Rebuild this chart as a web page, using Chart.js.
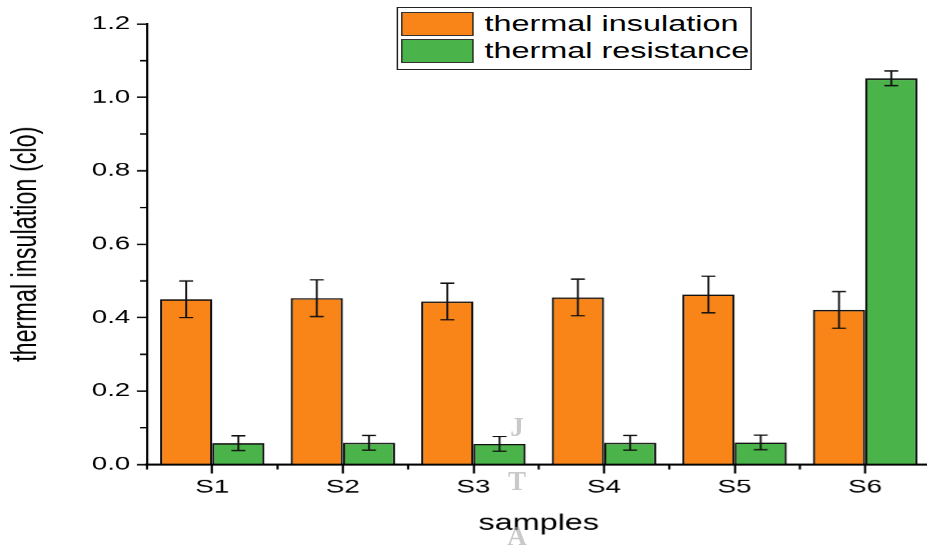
<!DOCTYPE html>
<html>
<head>
<meta charset="utf-8">
<script src="https://cdn.jsdelivr.net/npm/chart.js@4.4.1/dist/chart.umd.min.js"></script>
<style>
  html, body { margin: 0; padding: 0; background: #fff; overflow: hidden; }
  #wrap { position: absolute; left: 0; top: 0; width: 630px; height: 548px; transform: scaleX(1.48); transform-origin: 0 0; }
  #barChart { position: absolute; left: 0; top: 0; }
  #legend { position: absolute; left: 267.6px; top: 7px; width: 238px; height: 59px; border: 1px solid #222; background: #fff;
            padding-top: 2px; box-sizing: content-box; font-family: 'Liberation Sans', Arial, sans-serif; }
  .row { display: flex; align-items: center; height: 27.5px; }
  .sw { width: 47px; height: 22px; margin-left: 2.4px; border: 1px solid #333; }
  .lbl { margin-left: 7.4px; font-size: 21.9px; color: #000; white-space: nowrap; }
  .wm { position: absolute; left: 497px; width: 40px; text-align: center; font: bold 27px 'Liberation Serif', serif;
        line-height: 0.8; color: rgba(165,165,165,0.6); }
</style>
</head>
<body>
<div id="wrap">
  <canvas id="barChart" width="630" height="548"></canvas>
  <div id="legend"></div>
</div>
<div class="wm" style="top:417px">J</div>
<div class="wm" style="top:471px">T</div>
<div class="wm" style="top:526px">A</div>
<script>
// data
let samples = ['S1', 'S2', 'S3', 'S4', 'S5', 'S6'];
let insulation = [0.450, 0.453, 0.444, 0.455, 0.463, 0.421];
let insulationErr = [0.05, 0.05, 0.05, 0.05, 0.05, 0.05];
let resistance = [0.058, 0.059, 0.056, 0.059, 0.060, 1.052];
let resistanceErr = [0.02, 0.02, 0.02, 0.02, 0.02, 0.02];
let yTicks = [0, 0.2, 0.4, 0.6, 0.8, 1.0, 1.2];

const STRETCH = 1.48; // the original figure is wider than its fonts

Chart.defaults.font.family = "'Liberation Sans', Arial, sans-serif";
Chart.defaults.color = '#000';

// error bars on top of each bar
const errorBars = {
    id: 'errorBars',
    afterDatasetsDraw(chart) {
        const ctx = chart.ctx;
        const y = chart.scales.y;
        ctx.save();
        ctx.strokeStyle = '#111';
        ctx.lineWidth = 1.3;
        chart.data.datasets.forEach((ds, i) => {
            chart.getDatasetMeta(i).data.forEach((bar, j) => {
                const top = y.getPixelForValue(ds.data[j] + ds.errors[j]);
                const bot = y.getPixelForValue(ds.data[j] - ds.errors[j]);
                const w = 4.7;
                ctx.beginPath();
                ctx.moveTo(bar.x, top); ctx.lineTo(bar.x, bot);
                ctx.moveTo(bar.x - w, top); ctx.lineTo(bar.x + w, top);
                ctx.moveTo(bar.x - w, bot); ctx.lineTo(bar.x + w, bot);
                ctx.stroke();
            });
        });
        ctx.restore();
    }
};

// minor ticks between the labelled ones
const minorTicks = {
    id: 'minorTicks',
    afterDraw(chart) {
        const ctx = chart.ctx;
        const x = chart.scales.x, y = chart.scales.y;
        ctx.save();
        ctx.strokeStyle = '#000';
        ctx.lineWidth = 1.5;
        ctx.beginPath();
        for (let i = 0; i < yTicks.length - 1; i++) {
            const py = y.getPixelForValue((yTicks[i] + yTicks[i + 1]) / 2);
            ctx.moveTo(y.right, py);
            ctx.lineTo(y.right - 4.7, py);
        }
        for (let i = 0; i <= samples.length; i++) {
            const px = x.getPixelForValue(i - 0.5);
            ctx.moveTo(px, x.top);
            ctx.lineTo(px, x.top + 5);
        }
        ctx.stroke();
        ctx.restore();
    }
};

const ctx = document.getElementById('barChart').getContext('2d');
const barChart = new Chart(ctx, {
    type: 'bar',
    data: {
        labels: samples,
        datasets: [{
            label: 'thermal insulation',
            data: insulation,
            errors: insulationErr,
            backgroundColor: '#f98518',
            borderColor: '#111',
            borderWidth: 1.5
        }, {
            label: 'thermal resistance',
            data: resistance,
            errors: resistanceErr,
            backgroundColor: '#4ab44a',
            borderColor: '#111',
            borderWidth: 1.5
        }]
    },
    options: {
        responsive: false,
        animation: false,
        devicePixelRatio: STRETCH,
        categoryPercentage: 0.8,
        barPercentage: 1.0,
        layout: { padding: { top: 24, right: 1.6, left: 0, bottom: 0 } },
        plugins: { legend: { display: false }, tooltip: { enabled: false } },
        scales: {
            x: {
                z: 1,
                offset: true,
                grid: { display: true, drawOnChartArea: false, offset: false, tickLength: 9, tickWidth: 1.5, tickColor: '#000' },
                border: { color: '#000', width: 2 },
                ticks: { color: '#000', font: { size: 18.7 }, padding: 3, maxRotation: 0 },
                title: { display: true, text: 'samples', color: '#000', font: { size: 21.9 }, padding: { top: 0, bottom: 11 } },
                afterFit(scale) { scale.height = 83.6; }
            },
            y: {
                z: 1,
                min: 0,
                max: 1.2,
                grid: { display: true, drawOnChartArea: false, tickLength: 6.8, tickWidth: 1.5, tickColor: '#000' },
                border: { color: '#000', width: 1.5 },
                ticks: { stepSize: 0.2, color: '#000', font: { size: 18.7 }, padding: 4.5,
                         callback: v => v.toFixed(1) },
                title: { display: true, text: 'thermal insulation (clo)', color: '#000', font: { size: 23.4 }, padding: { top: 4 } },
                afterFit(scale) { scale.width = 99.3; }
            }
        }
    },
    plugins: [errorBars, minorTicks]
});

// legend built from the datasets
let legend = [];
barChart.data.datasets.forEach(ds => {
    legend.push('<div class="row">');
    legend.push('<div class="sw" style="background-color:' + ds.backgroundColor + '"></div>');
    legend.push('<span class="lbl">' + ds.label + '</span>');
    legend.push('</div>');
});
document.getElementById('legend').innerHTML = legend.join('');
</script>
</body>
</html>
